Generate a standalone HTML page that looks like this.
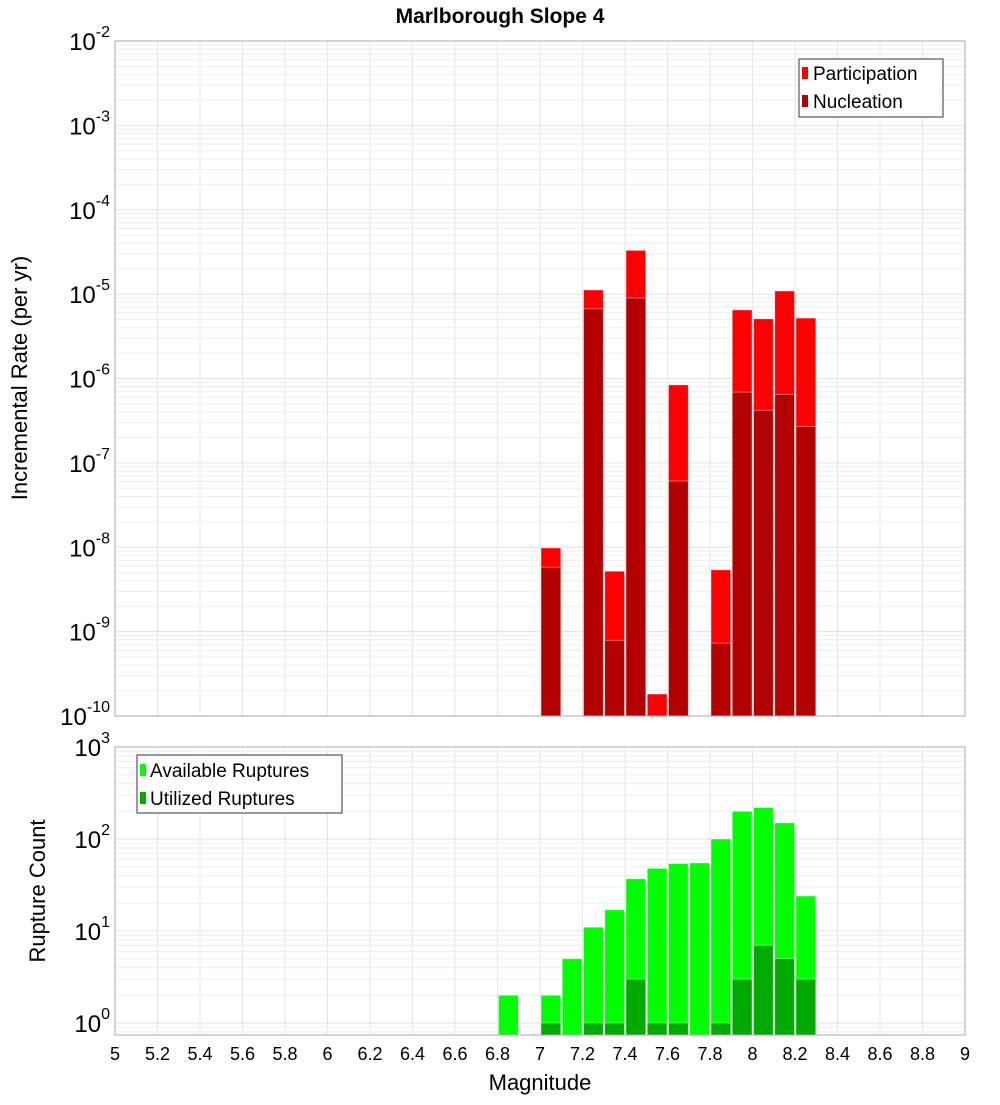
<!DOCTYPE html>
<html><head><meta charset="utf-8"><style>
body{margin:0;background:#fff;}
svg text{font-family:"Liberation Sans","DejaVu Sans",sans-serif;}
</style></head><body>
<svg id="chart" width="1000" height="1100" xmlns="http://www.w3.org/2000/svg">
<rect width="1000" height="1100" fill="#fff"/>
<text x="500" y="23" text-anchor="middle" font-size="21" font-weight="bold">Marlborough Slope 4</text>
<g id="grid"></g>
<g id="bars"></g>
<g id="axes"></g>
<text transform="translate(27,378) rotate(-90)" text-anchor="middle" font-size="22">Incremental Rate (per yr)</text>
<text transform="translate(45,891) rotate(-90)" text-anchor="middle" font-size="22">Rupture Count</text>
<text x="540" y="1090" text-anchor="middle" font-size="22">Magnitude</text>
<g>
<rect x="799" y="59" width="144" height="58" fill="#fff" stroke="#333" stroke-width="1"/>
<rect x="802" y="67" width="6" height="12" fill="#ff0000"/>
<text x="813" y="80" font-size="19">Participation</text>
<rect x="802" y="95" width="6" height="12" fill="#b30000"/>
<text x="813" y="108" font-size="19">Nucleation</text>
</g>
<g>
<rect x="137" y="755" width="205" height="58" fill="#fff" stroke="#333" stroke-width="1"/>
<rect x="140" y="764" width="6" height="12" fill="#00ff00"/>
<text x="150" y="777" font-size="19">Available Ruptures</text>
<rect x="140" y="792" width="6" height="12" fill="#00aa00"/>
<text x="150" y="805" font-size="19">Utilized Ruptures</text>
</g>
</svg>
<script>
const binStarts = [6.8,7.0,7.1,7.2,7.3,7.4,7.5,7.6,7.7,7.8,7.9,8.0,8.1,8.2];
const participation = [0,9.8e-9,0,1.12e-5,5.2e-9,3.3e-5,1.82e-10,8.4e-7,0,5.4e-9,6.5e-6,5.1e-6,1.09e-5,5.2e-6];
const nucleation = [0,5.8e-9,0,6.7e-6,7.9e-10,9.0e-6,1.82e-10,6.1e-8,0,7.3e-10,6.9e-7,4.2e-7,6.5e-7,2.7e-7];
const available = [2,2,5,11,17,37,48,54,55,100,200,220,150,24];
const utilized = [0,1,0,1,1,3,1,1,0,1,3,7,5,3];
const xTicks = [5,5.2,5.4,5.6,5.8,6,6.2,6.4,6.6,6.8,7,7.2,7.4,7.6,7.8,8,8.2,8.4,8.6,8.8,9];
const topExps = [-10,-9,-8,-7,-6,-5,-4,-3,-2];
const botExps = [0,1,2,3];

const NS="http://www.w3.org/2000/svg";
const X0=115,X1=965;
const xs=m=>X0+(m-5)/4*(X1-X0);
const T={top:41,bot:716,min:-10,max:-2};
const B={top:747,bot:1035,min:-0.1304,max:3};
const yT=v=>T.bot-(Math.log10(v)-T.min)/(T.max-T.min)*(T.bot-T.top);
const yB=v=>B.bot-(Math.log10(v)-B.min)/(B.max-B.min)*(B.bot-B.top);
const grid=document.getElementById('grid'),bars=document.getElementById('bars'),axes=document.getElementById('axes');
function mk(p,tag,at){const e=document.createElementNS(NS,tag);for(const k in at)e.setAttribute(k,at[k]);p.appendChild(e);return e;}

// plot backgrounds + grids
[[T,yT,-10,-2],[B,yB,-1,3]].forEach(([P,yf,lo,hi])=>{
  xTicks.forEach(t=>{const l=mk(grid,'line',{x1:xs(t),x2:xs(t),y1:P.top,y2:P.bot,stroke:'#e6e6e6','stroke-width':1});
    
    });
  for(let e=lo;e<hi;e++)for(let k=1;k<10;k++){const v=k*Math.pow(10,e);const y=yf(v);if(y<P.top-0.5||y>P.bot+0.5)continue;
    const l=mk(grid,'line',{x1:X0,x2:X1,y1:y,y2:y,stroke:k==1?'#e0e0e0':'#ededed','stroke-width':1});
    
    }
});

function bar(x,y,h,fill,name){const r=mk(bars,'rect',{x:x,y:y,width:xs(0.1+5)-xs(5)-1.5,height:Math.max(0,h),fill:fill,stroke:'rgba(255,255,255,0.5)','stroke-width':0.8});
  
  }
binStarts.forEach((m,i)=>{
  const x=xs(m)+1;
  if(participation[i]>0){const y=Math.max(T.top,yT(participation[i]));bar(x,y,T.bot-y,'#ff0000','participation-bar');}
  if(nucleation[i]>0&&nucleation[i]<participation[i]){const y=yT(nucleation[i]);bar(x,y,T.bot-y,'#b30000','nucleation-bar');}
  if(available[i]>0){const y=yB(available[i]);bar(x,y,B.bot-y,'#00ff00','available-bar');}
  if(utilized[i]>0){const y=yB(utilized[i]);bar(x,y,B.bot-y,'#00aa00','utilized-bar');}
});

// frames
[T,B].forEach(P=>{const r=mk(axes,'rect',{x:X0,y:P.top,width:X1-X0,height:P.bot-P.top,fill:'none',stroke:'#aaa','stroke-width':1});
  
  });
function pow(y,e,name){const t=mk(axes,'text',{x:110,y:y+9,'text-anchor':'end','font-size':24});
  
  
  t.textContent='10';const s=mk(t,'tspan',{dy:-13,'font-size':16});s.textContent=String(e);}
topExps.forEach(e=>pow(yT(Math.pow(10,e)),e,'top-y-tick-label'));
botExps.forEach(e=>pow(yB(Math.pow(10,e)),e,'bottom-y-tick-label'));
xTicks.forEach(t=>{const l=mk(axes,'text',{x:xs(t),y:1060,'text-anchor':'middle','font-size':18});
  
  
  l.textContent=String(t);});
</script>
</body></html>
